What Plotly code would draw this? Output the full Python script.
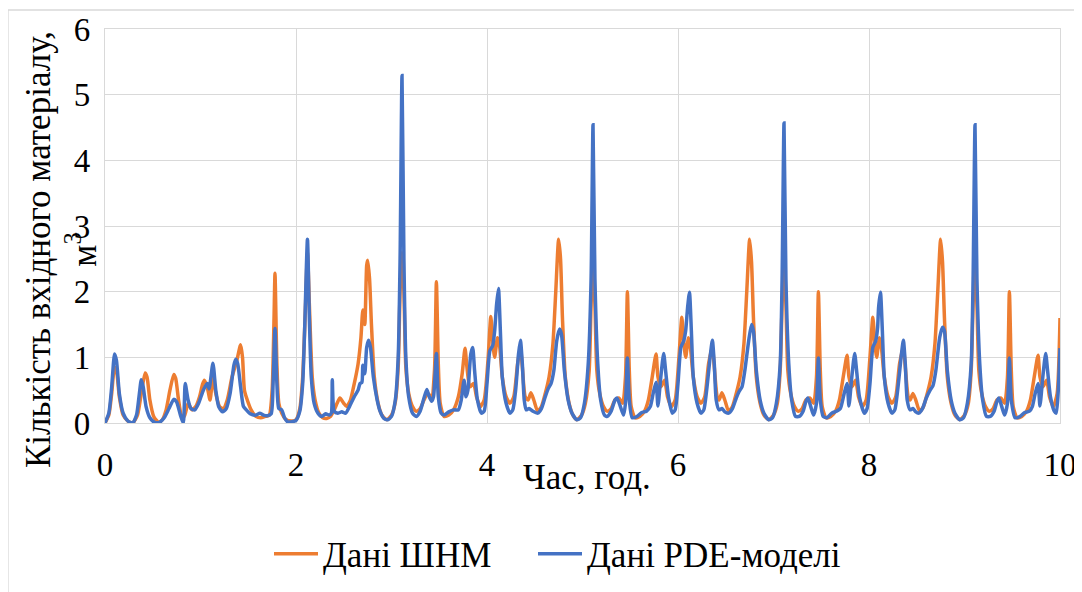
import plotly.graph_objects as go

# ---------------- data ----------------
time_shnm = [
    0.00, 0.04, 0.07, 0.10, 0.12, 0.15, 0.19, 0.24, 0.29, 0.34, 0.38, 0.42, 0.44, 0.47, 0.51, 0.56,
    0.60, 0.64, 0.68, 0.72, 0.74, 0.77, 0.80, 0.83, 0.87, 0.91, 0.95, 0.99, 1.02, 1.04, 1.07, 1.10,
    1.13, 1.16, 1.20, 1.24, 1.28, 1.33, 1.38, 1.42, 1.44, 1.46, 1.49, 1.53, 1.58, 1.63, 1.68, 1.72,
    1.75, 1.77, 1.78, 1.80, 1.82, 1.85, 1.89, 1.95, 2.00, 2.04, 2.07, 2.10, 2.12, 2.14, 2.17, 2.20,
    2.24, 2.28, 2.32, 2.36, 2.40, 2.43, 2.46, 2.50, 2.53, 2.57, 2.61, 2.65, 2.68, 2.70, 2.72, 2.74,
    2.75, 2.77, 2.79, 2.82, 2.86, 2.90, 2.95, 3.00, 3.04, 3.07, 3.09, 3.11, 3.13, 3.15, 3.18, 3.22,
    3.26, 3.30, 3.34, 3.38, 3.42, 3.45, 3.47, 3.49, 3.51, 3.55, 3.60, 3.65, 3.70, 3.74, 3.77, 3.79,
    3.82, 3.86, 3.89, 3.93, 3.97, 4.01, 4.04, 4.06, 4.08, 4.11, 4.13, 4.16, 4.20, 4.24, 4.28, 4.32,
    4.35, 4.37, 4.40, 4.43, 4.46, 4.49, 4.53, 4.57, 4.61, 4.65, 4.69, 4.72, 4.75, 4.77, 4.79, 4.82,
    4.86, 4.90, 4.94, 4.99, 5.03, 5.07, 5.09, 5.11, 5.13, 5.15, 5.18, 5.22, 5.26, 5.30, 5.34, 5.38,
    5.42, 5.45, 5.47, 5.49, 5.51, 5.55, 5.60, 5.65, 5.69, 5.73, 5.77, 5.79, 5.82, 5.86, 5.89, 5.93,
    5.97, 6.01, 6.04, 6.06, 6.08, 6.11, 6.13, 6.16, 6.20, 6.24, 6.28, 6.32, 6.36, 6.38, 6.41, 6.43,
    6.46, 6.49, 6.53, 6.57, 6.61, 6.65, 6.69, 6.72, 6.75, 6.77, 6.79, 6.82, 6.86, 6.90, 6.95, 7.00,
    7.04, 7.07, 7.09, 7.11, 7.13, 7.15, 7.18, 7.22, 7.26, 7.30, 7.34, 7.38, 7.42, 7.45, 7.47, 7.49,
    7.51, 7.55, 7.60, 7.65, 7.69, 7.73, 7.77, 7.79, 7.82, 7.86, 7.89, 7.93, 7.97, 8.01, 8.04, 8.06,
    8.08, 8.11, 8.13, 8.16, 8.20, 8.24, 8.28, 8.32, 8.36, 8.38, 8.41, 8.43, 8.46, 8.49, 8.53, 8.57,
    8.61, 8.65, 8.69, 8.72, 8.75, 8.77, 8.79, 8.82, 8.86, 8.90, 8.95, 9.00, 9.04, 9.07, 9.09, 9.11,
    9.13, 9.15, 9.18, 9.22, 9.26, 9.30, 9.34, 9.38, 9.42, 9.45, 9.47, 9.49, 9.51, 9.55, 9.60, 9.65,
    9.69, 9.73, 9.77, 9.79, 9.82, 9.86, 9.89, 9.93, 9.97, 10.00,
]
shnm_values = [
    0.00, 0.12, 0.45, 0.85, 0.80, 0.40, 0.12, 0.03, 0.00, 0.12, 0.45, 0.76, 0.70, 0.35, 0.10, 0.01,
    0.05, 0.20, 0.50, 0.74, 0.68, 0.35, 0.12, 0.10, 0.30, 0.20, 0.25, 0.40, 0.58, 0.65, 0.55, 0.35,
    0.70, 0.45, 0.25, 0.22, 0.35, 0.70, 0.95, 1.19, 1.00, 0.50, 0.35, 0.20, 0.10, 0.08, 0.10, 0.12,
    0.50, 1.60, 2.28, 0.90, 0.30, 0.15, 0.06, 0.03, 0.05, 0.22, 0.70, 1.80, 2.60, 1.80, 0.70, 0.35,
    0.15, 0.08, 0.07, 0.10, 0.20, 0.30, 0.38, 0.30, 0.25, 0.35, 0.60, 0.90, 1.30, 1.72, 1.50, 2.40,
    2.48, 2.20, 1.50, 0.70, 0.30, 0.12, 0.05, 0.12, 0.32, 0.85, 2.00, 2.60, 2.00, 0.85, 0.45, 0.25,
    0.18, 0.22, 0.35, 0.45, 0.40, 0.80, 2.15, 0.90, 0.30, 0.10, 0.12, 0.20, 0.40, 0.75, 1.14, 0.85,
    0.55, 0.60, 0.40, 0.25, 0.35, 0.95, 1.62, 1.25, 1.00, 1.30, 1.20, 0.70, 0.40, 0.30, 0.40, 0.90,
    1.15, 0.85, 0.40, 0.35, 0.46, 0.35, 0.18, 0.25, 0.45, 0.70, 1.20, 2.00, 2.80, 2.50, 1.60, 0.70,
    0.30, 0.12, 0.05, 0.12, 0.30, 0.80, 1.80, 2.40, 1.80, 0.80, 0.45, 0.25, 0.18, 0.22, 0.35, 0.38,
    0.30, 0.70, 2.00, 0.80, 0.25, 0.08, 0.10, 0.18, 0.35, 0.70, 1.05, 0.70, 0.55, 0.65, 0.40, 0.25,
    0.35, 1.00, 1.61, 1.25, 1.00, 1.30, 1.15, 0.70, 0.40, 0.30, 0.40, 0.90, 1.15, 0.85, 0.40, 0.35,
    0.46, 0.35, 0.18, 0.25, 0.45, 0.70, 1.20, 2.00, 2.80, 2.45, 1.60, 0.70, 0.30, 0.12, 0.05, 0.12,
    0.30, 0.80, 1.80, 2.40, 1.80, 0.80, 0.45, 0.25, 0.18, 0.22, 0.35, 0.38, 0.30, 0.70, 2.00, 0.80,
    0.25, 0.08, 0.10, 0.18, 0.35, 0.70, 1.03, 0.70, 0.55, 0.65, 0.40, 0.25, 0.35, 1.00, 1.61, 1.25,
    1.00, 1.30, 1.15, 0.70, 0.40, 0.30, 0.40, 0.90, 1.15, 0.85, 0.40, 0.35, 0.45, 0.35, 0.18, 0.25,
    0.45, 0.70, 1.20, 2.00, 2.80, 2.45, 1.60, 0.70, 0.30, 0.12, 0.05, 0.12, 0.30, 0.80, 1.80, 2.40,
    1.80, 0.80, 0.45, 0.25, 0.18, 0.22, 0.35, 0.38, 0.30, 0.70, 2.00, 0.80, 0.25, 0.08, 0.10, 0.18,
    0.35, 0.70, 1.03, 0.70, 0.55, 0.65, 0.40, 0.25, 0.45, 1.60,
]

time_pde = [
    0.00, 0.04, 0.07, 0.10, 0.12, 0.15, 0.19, 0.24, 0.29, 0.33, 0.36, 0.38, 0.40, 0.43, 0.47, 0.52,
    0.57, 0.62, 0.67, 0.72, 0.75, 0.79, 0.82, 0.84, 0.87, 0.90, 0.94, 0.98, 1.03, 1.07, 1.09, 1.13,
    1.16, 1.19, 1.23, 1.27, 1.31, 1.35, 1.37, 1.39, 1.42, 1.45, 1.48, 1.52, 1.58, 1.62, 1.66, 1.70,
    1.74, 1.76, 1.78, 1.80, 1.82, 1.85, 1.88, 1.91, 1.96, 2.00, 2.04, 2.07, 2.09, 2.12, 2.14, 2.16,
    2.19, 2.23, 2.27, 2.31, 2.35, 2.37, 2.38, 2.40, 2.44, 2.48, 2.52, 2.56, 2.61, 2.65, 2.67, 2.69,
    2.70, 2.72, 2.74, 2.76, 2.78, 2.81, 2.85, 2.88, 2.92, 2.96, 3.00, 3.04, 3.07, 3.09, 3.11, 3.13,
    3.15, 3.18, 3.22, 3.26, 3.30, 3.34, 3.37, 3.39, 3.42, 3.44, 3.47, 3.49, 3.52, 3.55, 3.60, 3.65,
    3.70, 3.73, 3.76, 3.78, 3.80, 3.83, 3.85, 3.87, 3.90, 3.94, 3.97, 4.00, 4.03, 4.06, 4.08, 4.10,
    4.12, 4.14, 4.16, 4.20, 4.24, 4.27, 4.30, 4.33, 4.35, 4.37, 4.39, 4.41, 4.44, 4.48, 4.53, 4.57,
    4.61, 4.64, 4.67, 4.70, 4.73, 4.76, 4.78, 4.81, 4.85, 4.89, 4.94, 4.98, 5.02, 5.06, 5.09, 5.11,
    5.13, 5.16, 5.19, 5.23, 5.26, 5.30, 5.34, 5.36, 5.39, 5.43, 5.45, 5.47, 5.49, 5.52, 5.57, 5.62,
    5.67, 5.71, 5.74, 5.77, 5.79, 5.82, 5.85, 5.87, 5.90, 5.94, 5.97, 6.00, 6.03, 6.06, 6.08, 6.10,
    6.12, 6.14, 6.16, 6.20, 6.24, 6.27, 6.30, 6.34, 6.36, 6.38, 6.40, 6.43, 6.46, 6.49, 6.53, 6.57,
    6.61, 6.64, 6.67, 6.70, 6.74, 6.77, 6.79, 6.82, 6.86, 6.90, 6.95, 6.99, 7.03, 7.07, 7.09, 7.11,
    7.13, 7.16, 7.19, 7.23, 7.27, 7.31, 7.34, 7.36, 7.39, 7.42, 7.45, 7.47, 7.49, 7.52, 7.56, 7.61,
    7.66, 7.70, 7.74, 7.77, 7.79, 7.82, 7.85, 7.87, 7.90, 7.95, 7.98, 8.01, 8.04, 8.07, 8.09, 8.10,
    8.12, 8.14, 8.16, 8.20, 8.24, 8.27, 8.30, 8.34, 8.36, 8.38, 8.40, 8.43, 8.46, 8.49, 8.52, 8.56,
    8.60, 8.64, 8.67, 8.70, 8.74, 8.77, 8.79, 8.82, 8.86, 8.90, 8.95, 8.99, 9.03, 9.07, 9.09, 9.11,
    9.13, 9.16, 9.19, 9.23, 9.27, 9.31, 9.34, 9.36, 9.39, 9.42, 9.45, 9.47, 9.49, 9.53, 9.58, 9.63,
    9.68, 9.71, 9.74, 9.77, 9.79, 9.82, 9.85, 9.87, 9.90, 9.94, 9.96, 9.98, 10.00,
]
pde_values = [
    0.00, 0.15, 0.55, 1.05, 0.95, 0.45, 0.15, 0.03, 0.00, 0.12, 0.45, 0.66, 0.55, 0.25, 0.08, 0.01,
    0.01, 0.08, 0.22, 0.36, 0.32, 0.12, 0.00, 0.60, 0.35, 0.22, 0.20, 0.30, 0.50, 0.60, 0.52, 0.91,
    0.50, 0.25, 0.17, 0.22, 0.45, 0.88, 0.97, 0.90, 0.55, 0.25, 0.20, 0.14, 0.12, 0.15, 0.12, 0.11,
    0.14, 0.60, 1.44, 0.60, 0.22, 0.20, 0.08, 0.02, 0.02, 0.04, 0.18, 0.60, 1.40, 2.80, 1.60, 0.70,
    0.30, 0.15, 0.10, 0.14, 0.12, 0.15, 0.66, 0.18, 0.15, 0.17, 0.15, 0.25, 0.40, 0.50, 0.60, 0.62,
    0.88, 0.75, 1.15, 1.26, 1.15, 0.70, 0.35, 0.18, 0.07, 0.05, 0.10, 0.35, 1.00, 2.50, 5.29, 2.50,
    1.00, 0.40, 0.15, 0.10, 0.18, 0.38, 0.51, 0.42, 0.33, 0.40, 1.06, 0.40, 0.15, 0.12, 0.17, 0.20,
    0.20, 0.35, 0.65, 0.40, 0.50, 1.05, 1.15, 0.80, 0.35, 0.15, 0.18, 0.60, 1.10, 1.18, 1.40, 1.80,
    2.05, 1.40, 0.70, 0.30, 0.15, 0.20, 0.50, 1.05, 1.26, 0.90, 0.35, 0.20, 0.22, 0.18, 0.15, 0.22,
    0.40, 0.52, 0.60, 0.80, 1.25, 1.43, 1.35, 0.80, 0.35, 0.15, 0.05, 0.08, 0.30, 0.90, 2.20, 4.54,
    2.20, 0.90, 0.35, 0.12, 0.10, 0.18, 0.35, 0.38, 0.28, 0.12, 0.30, 0.99, 0.35, 0.08, 0.10, 0.16,
    0.18, 0.25, 0.45, 0.62, 0.26, 0.70, 1.06, 0.80, 0.40, 0.15, 0.20, 0.60, 1.15, 1.25, 1.40, 1.75,
    1.99, 1.40, 0.70, 0.30, 0.15, 0.20, 0.50, 1.05, 1.26, 0.90, 0.35, 0.20, 0.22, 0.17, 0.15, 0.22,
    0.38, 0.48, 0.55, 0.80, 1.25, 1.50, 1.40, 0.80, 0.35, 0.15, 0.05, 0.08, 0.30, 0.90, 2.20, 4.57,
    2.20, 0.90, 0.35, 0.10, 0.10, 0.18, 0.33, 0.38, 0.25, 0.12, 0.30, 0.99, 0.35, 0.10, 0.08, 0.15,
    0.18, 0.22, 0.45, 0.60, 0.26, 0.70, 1.06, 0.80, 0.40, 0.15, 0.22, 0.60, 1.15, 1.25, 1.45, 1.75,
    1.99, 1.40, 0.70, 0.30, 0.15, 0.20, 0.50, 1.05, 1.26, 0.90, 0.35, 0.20, 0.22, 0.17, 0.15, 0.22,
    0.38, 0.50, 0.57, 0.80, 1.30, 1.46, 1.40, 0.80, 0.35, 0.15, 0.05, 0.08, 0.30, 0.90, 2.20, 4.54,
    2.20, 0.90, 0.35, 0.10, 0.10, 0.18, 0.33, 0.38, 0.25, 0.12, 0.30, 0.99, 0.35, 0.08, 0.10, 0.16,
    0.18, 0.25, 0.45, 0.60, 0.26, 0.70, 1.06, 0.80, 0.40, 0.18, 0.15, 0.45, 1.14,
]

series_names = ["Дані ШНМ", "Дані PDE-моделі"]
x_title = "Час, год."
y_title = "Кількість вхідного матеріалу,<br>м<sup>3</sup>"
x_ticks = [0, 2, 4, 6, 8, 10]
y_ticks = [0, 1, 2, 3, 4, 5, 6]

# ---------------- figure ----------------
FONT = "Liberation Serif"
GRID = "#d9d9d9"

fig = go.Figure()
fig.add_trace(go.Scatter(x=time_shnm, y=shnm_values, mode="lines", name=series_names[0],
                         legend="legend",
                         line=dict(color="#ED7D31", width=3.5, shape="spline", smoothing=0.6)))
fig.add_trace(go.Scatter(x=time_pde, y=pde_values, mode="lines", name=series_names[1],
                         legend="legend2",
                         line=dict(color="#4472C4", width=3.5, shape="spline", smoothing=0.6)))

# positions below are in screenshot pixels; page body has an 8px margin
OFF = 8
L, R, T, B = 105, 1060, 29, 423
W, H = 1082 - OFF, 592 - OFF
pw, ph = R - L, B - T

def px(xp):
    return (xp - L) / pw

def py(yp):
    return (B - yp) / ph

leg_common = dict(orientation="h", y=py(554), xanchor="left", yanchor="middle",
                  font=dict(family=FONT, size=35), itemwidth=44, bgcolor="rgba(0,0,0,0)")

fig.update_layout(
    width=W, height=H,
    margin=dict(l=L - OFF, r=1082 - R, t=T - OFF, b=592 - B, pad=0, autoexpand=False),
    paper_bgcolor="white", plot_bgcolor="white",
    font=dict(family=FONT, size=35, color="#000000"),
    showlegend=True,
    legend=dict(x=px(269), **leg_common),
    legend2=dict(x=px(533), **leg_common),
    xaxis=dict(range=[0, 10], tickvals=x_ticks, showgrid=True, gridcolor=GRID, gridwidth=1.3,
               zeroline=False, showline=True, linecolor=GRID, linewidth=1.3, mirror=True,
               ticks="", ticklabelstandoff=12, tickfont=dict(family=FONT, size=33)),
    yaxis=dict(range=[0, 6], tickvals=y_ticks, showgrid=True, gridcolor=GRID, gridwidth=1.3,
               zeroline=False, showline=True, linecolor=GRID, linewidth=1.3, mirror=True,
               ticks="", ticklabelstandoff=7, tickfont=dict(family=FONT, size=33)),
    annotations=[
        dict(text=x_title, xref="paper", yref="paper", x=px(587), y=py(478),
             xanchor="center", yanchor="middle", showarrow=False,
             font=dict(family=FONT, size=35)),
        dict(text=y_title, xref="paper", yref="paper", x=px(62), y=py(250),
             xanchor="center", yanchor="middle", showarrow=False, textangle=-90,
             font=dict(family=FONT, size=35)),
    ],
    shapes=[
        dict(type="rect", xref="paper", yref="paper", x0=px(8), x1=px(1077), y0=py(600), y1=py(10),
             line=dict(color=GRID, width=1.3), fillcolor="rgba(0,0,0,0)", layer="below"),
    ],
)

fig.write_html("out.html")
